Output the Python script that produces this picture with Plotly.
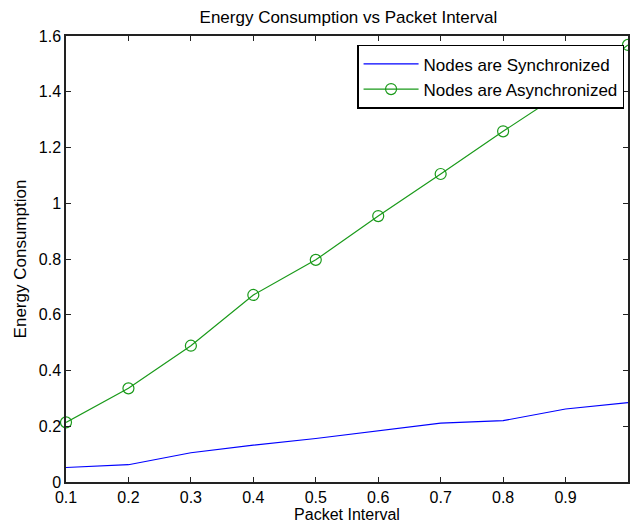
import plotly.graph_objects as go

packet_interval = [0.1, 0.2, 0.3, 0.4, 0.5, 0.6, 0.7, 0.8, 0.9, 1.0]
sync_energy = [0.052, 0.062, 0.105, 0.132, 0.156, 0.183, 0.211, 0.220, 0.262, 0.285]
async_energy = [0.214, 0.336, 0.489, 0.671, 0.797, 0.954, 1.105, 1.258, 1.405, 1.568]
x_ticks = [0.1, 0.2, 0.3, 0.4, 0.5, 0.6, 0.7, 0.8, 0.9]
y_ticks = [0, 0.2, 0.4, 0.6, 0.8, 1, 1.2, 1.4, 1.6]

font = "Liberation Sans, Arial, sans-serif"

fig = go.Figure()
fig.add_trace(go.Scatter(
    x=packet_interval, y=sync_energy, mode="lines",
    name="Nodes are Synchronized",
    line=dict(color="#0000ff", width=1.2),
    cliponaxis=False,
))
fig.add_trace(go.Scatter(
    x=packet_interval, y=async_energy, mode="lines+markers",
    name="Nodes are Asynchronized",
    line=dict(color="#1a9a1a", width=1.2),
    marker=dict(symbol="circle-open", size=11, color="#1a9a1a", line=dict(width=1.2)),
    cliponaxis=False,
))

axis_common = dict(
    showgrid=False, zeroline=False, showline=True, linecolor="#222222", linewidth=1.5,
    mirror="ticks", ticks="inside", ticklen=5, tickcolor="#222222",
    tickfont=dict(family=font, size=16, color="#000000"),
)

fig.update_layout(
    width=630, height=528,
    margin=dict(l=66, r=0, t=36, b=46),
    paper_bgcolor="white", plot_bgcolor="white",
    title=dict(text="Energy Consumption vs Packet Interval", x=0.553, xanchor="center",
               y=1 - 17 / 528, yanchor="middle",
               font=dict(family=font, size=17, color="#000000")),
    xaxis=dict(range=[0.1, 1.0], tickvals=x_ticks, ticktext=[str(v) for v in x_ticks],
               title=dict(text="Packet Interval", font=dict(family=font, size=16, color="#000000"),
                          standoff=3),
               **axis_common),
    yaxis=dict(range=[0, 1.6], tickvals=y_ticks, ticktext=[("%g" % v) for v in y_ticks],
               title=dict(text="Energy Consumption", font=dict(family=font, size=17, color="#000000"),
                          standoff=8),
               **axis_common),
    legend=dict(x=0.993, y=0.98, xanchor="right", yanchor="top",
                bgcolor="white", bordercolor="#000000", borderwidth=1.5,
                font=dict(family=font, size=17, color="#000000"),
                itemwidth=55, tracegroupgap=0),
    showlegend=True,
)

fig.write_html("out.html")
